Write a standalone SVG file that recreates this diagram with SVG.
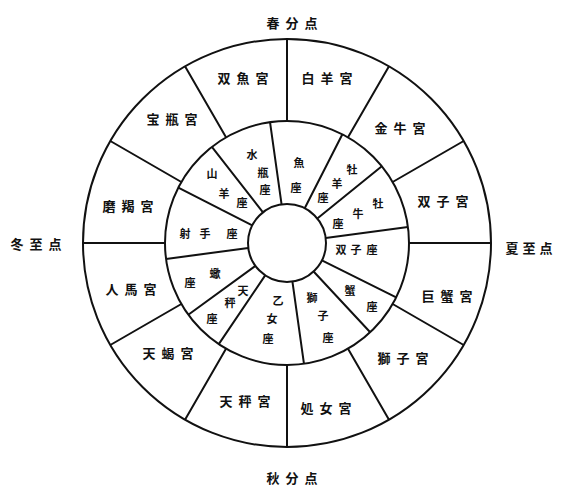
<svg xmlns="http://www.w3.org/2000/svg" width="561" height="487" viewBox="0 0 561 487">
<style>
.ln{stroke:#111;stroke-width:2;fill:none}
.o{font-family:"Noto Sans CJK JP","Noto Sans CJK SC",sans-serif;font-size:13px;font-weight:700;fill:#111;text-anchor:middle;dominant-baseline:central;letter-spacing:6px}
.i{font-family:"Noto Sans CJK JP","Noto Sans CJK SC",sans-serif;font-size:11px;font-weight:700;fill:#111;text-anchor:middle;dominant-baseline:central}
</style>
<rect width="561" height="487" fill="#fff"/>
<g id="wheel">
<circle class="ln" cx="287" cy="243" r="204"/>
<circle class="ln" cx="287" cy="243" r="122"/>
<circle class="ln" cx="287" cy="243" r="39"/>
</g>
<g id="connectors">
<path class="ln" d="M409 243H491M392.65 182L463.67 141M348 137.35L389 66.33M287 121V39M226 137.35L185 66.33M181.35 182L110.33 141M165 243H83M181.35 304L110.33 345M226 348.65L185 419.67M287 365V447M348 348.65L389 419.67M392.65 304L463.67 345"/>
<path class="ln" d="M281.57 204.38L270.02 122.2M262.99 212.27L211.89 146.86M252.25 225.29L178.3 187.61M248.33 248.09L166.05 258.92M255.45 265.92L188.3 314.71M265.19 275.33L218.78 344.14M292.43 281.62L303.98 363.8M313.6 271.52L370.2 332.23M321.9 260.4L396.18 297.44M325.67 237.91L407.95 227.08M317.31 218.46L381.81 166.23M304.71 208.25L342.39 134.3"/>
</g>
<g id="points">
<text class="o" x="295" y="22">春分点</text>
<text class="o" x="39" y="243">冬至点</text>
<text class="o" x="531" y="247" style="letter-spacing:4px">夏至点</text>
<text class="o" x="295" y="477">秋分点</text>
</g>
<g id="houses">
<text class="o" x="246" y="77">双魚宮</text>
<text class="o" x="330" y="77">白羊宮</text>
<text class="o" x="175" y="118">宝瓶宮</text>
<text class="o" x="403" y="127">金牛宮</text>
<text class="o" x="131" y="205">磨羯宮</text>
<text class="o" x="446" y="200">双子宮</text>
<text class="o" x="134" y="288">人馬宮</text>
<text class="o" x="450" y="295">巨蟹宮</text>
<text class="o" x="171" y="352">天蝎宮</text>
<text class="o" x="406" y="357">獅子宮</text>
<text class="o" x="248" y="400">天秤宮</text>
<text class="o" x="329" y="407">処女宮</text>
</g>
<g id="signs">
<text class="i" x="252" y="154">水</text><text class="i" x="263" y="172">瓶</text><text class="i" x="265" y="189">座</text>
<text class="i" x="212" y="173">山</text><text class="i" x="224" y="193">羊</text><text class="i" x="242" y="202">座</text>
<text class="i" x="299" y="162">魚</text><text class="i" x="296" y="187">座</text>
<text class="i" x="352" y="169">牡</text><text class="i" x="337" y="183">羊</text><text class="i" x="323" y="197">座</text>
<text class="i" x="378" y="203">牡</text><text class="i" x="358" y="213">牛</text><text class="i" x="338" y="223">座</text>
<text class="i" x="341" y="249">双</text><text class="i" x="356" y="249">子</text><text class="i" x="372" y="249">座</text>
<text class="i" x="350" y="290">蟹</text><text class="i" x="372" y="306">座</text>
<text class="i" x="312" y="297">獅</text><text class="i" x="323" y="315">子</text><text class="i" x="328" y="337">座</text>
<text class="i" x="278" y="300">乙</text><text class="i" x="272" y="318">女</text><text class="i" x="268" y="338">座</text>
<text class="i" x="243" y="290">天</text><text class="i" x="230" y="302">秤</text><text class="i" x="212" y="318">座</text>
<text class="i" x="215" y="273">蠍</text><text class="i" x="190" y="282">座</text>
<text class="i" x="185" y="233">射</text><text class="i" x="205" y="233">手</text><text class="i" x="232" y="233">座</text>
</g>
</svg>
